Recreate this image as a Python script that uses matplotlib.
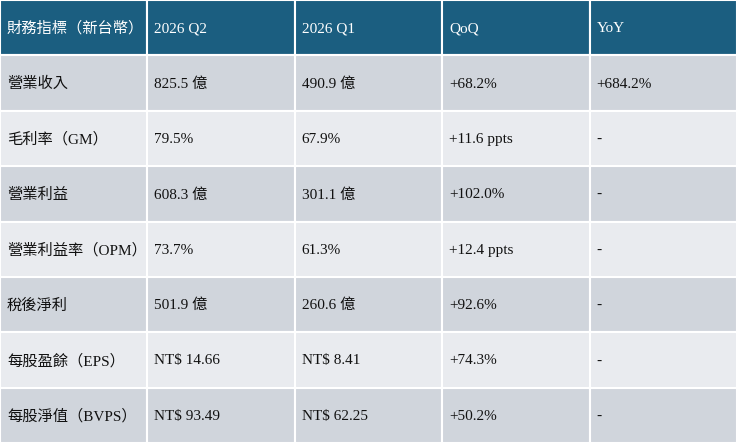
import matplotlib.pyplot as plt
import matplotlib.patches as patches

plt.rcParams['font.family'] = ['Liberation Serif', 'Noto Sans CJK TC', 'DejaVu Sans']

headers = ['財務指標（新台幣）', '2026 Q2', '2026 Q1', 'QoQ', 'YoY']
metrics = ['營業收入', '毛利率（GM）', '營業利益', '營業利益率（OPM）',
           '稅後淨利', '每股盈餘（EPS）', '每股淨值（BVPS）']
q2_2026 = ['825.5 億', '79.5%', '608.3 億', '73.7%', '501.9 億', 'NT$ 14.66', 'NT$ 93.49']
q1_2026 = ['490.9 億', '67.9%', '301.1 億', '61.3%', '260.6 億', 'NT$ 8.41', 'NT$ 62.25']
qoq = ['+68.2%', '+11.6 ppts', '+102.0%', '+12.4 ppts', '+92.6%', '+74.3%', '+50.2%']
yoy = ['+684.2%', '-', '-', '-', '-', '-', '-']

header_color = '#1b5e80'
row_colors = ['#d0d5dc', '#e9ebef']

W, H = 740, 446
table_w, table_h = 737, 443
n_cols = len(headers)
n_rows = len(metrics) + 1
col_w = table_w / n_cols
row_h = table_h / n_rows

fig = plt.figure(figsize=(W / 100, H / 100), dpi=100)
ax = fig.add_axes([0, 0, 1, 1])
ax.set_xlim(0, W)
ax.set_ylim(H, 0)
ax.axis('off')

rows = [headers] + [list(r) for r in zip(metrics, q2_2026, q1_2026, qoq, yoy)]

for i, row in enumerate(rows):
    y = i * row_h
    if i == 0:
        fc = header_color
        tc = 'white'
    else:
        fc = row_colors[(i - 1) % 2]
        tc = '#111111'
    for j, txt in enumerate(row):
        x = j * col_w
        rect = patches.Rectangle((x, y), col_w, row_h, facecolor=fc,
                                 edgecolor='white', linewidth=1.5)
        ax.add_patch(rect)
        ax.text(x + 7, y + row_h / 2 + 1, txt, color=tc, fontsize=11,
                ha='left', va='center')

plt.savefig('out.png', dpi=100, facecolor='white')
plt.close()
